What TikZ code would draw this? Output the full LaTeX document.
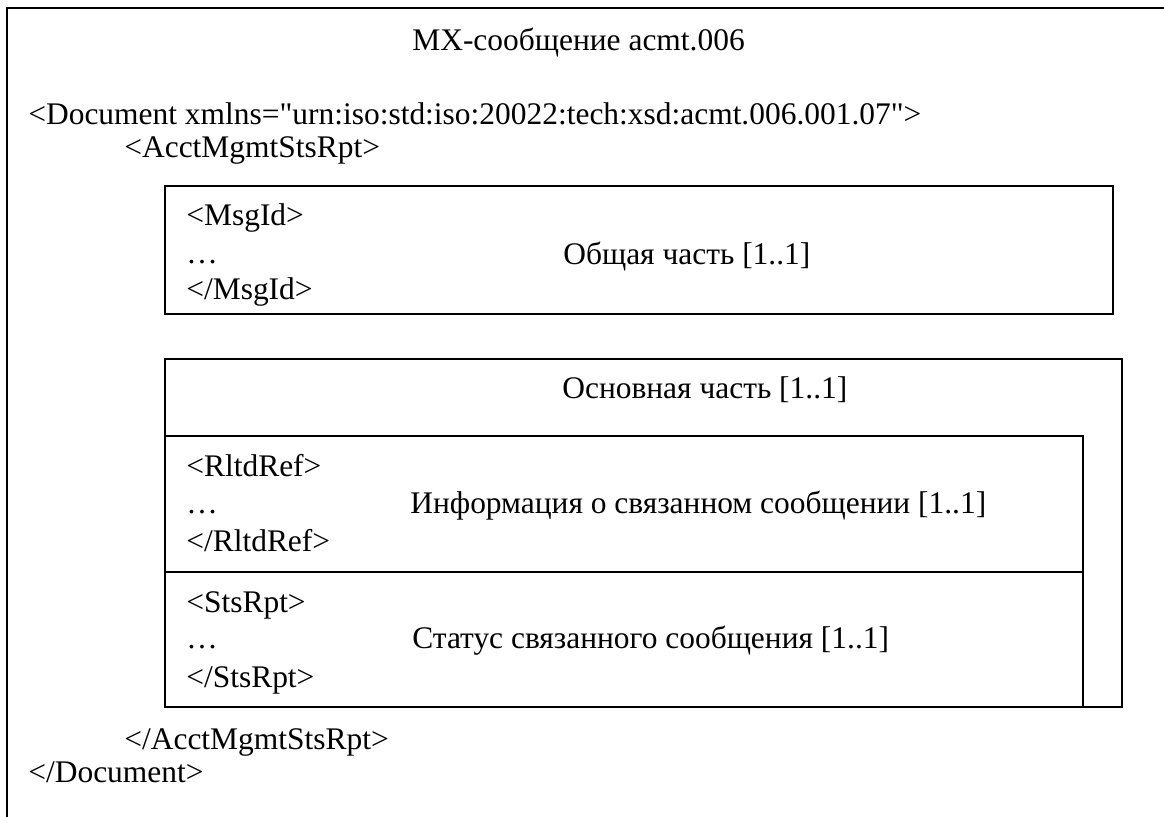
\documentclass[tikz,border=0pt]{standalone}
\usepackage{fontspec}
\setmainfont{Liberation Serif}[Ligatures=TeXOff]
\usetikzlibrary{positioning}

\begin{document}
\begin{tikzpicture}[
    x=0.02cm, y=-0.02cm,
    frame/.style={draw=black, line width=1.6pt},
    part/.style={draw=black, line width=1.1pt},
    txt/.style={anchor=base west, inner sep=0pt, font=\fontsize{17.9}{21}\selectfont}
]

\useasboundingbox (0,0) rectangle (1164,816);
\clip (0,0) rectangle (1164,816);

\draw[frame] (7,8) rectangle (1180,830);

\node[txt] (title) at (412,50) {MX-сообщение acmt.006};
\node[txt] (docopen) at (28,124) {<Document xmlns="urn:iso:std:iso:20022:tech:xsd:acmt.006.001.07">};
\node[txt] (rptopen) at (124,157) {<AcctMgmtStsRpt>};

\draw[part] (165,186) rectangle (1113,314);
\node[txt] (msgopen) at (186,225) {<MsgId>};
\node[txt] (msgdots) at (186,263) {…};
\node[txt] (msgclose) at (186,299) {</MsgId>};
\node[txt] (common) at (563,264) {Общая часть [1..1]};

\draw[part] (165,359) rectangle (1122,707);
\node[txt] (main) at (562,398) {Основная часть [1..1]};

\draw[part] (165,436) rectangle (1083,707);
\draw[part] (165,572) -- (1083,572);
\node[txt] (refopen) at (186,476) {<RltdRef>};
\node[txt] (refdots) at (186,513) {…};
\node[txt] (refclose) at (186,551) {</RltdRef>};
\node[txt] (refinfo) at (410,513) {Информация о связанном сообщении [1..1]};

\node[txt] (stsopen) at (186,612) {<StsRpt>};
\node[txt] (stsdots) at (186,648) {…};
\node[txt] (stsclose) at (186,687) {</StsRpt>};
\node[txt] (stsinfo) at (412,648) {Статус связанного сообщения [1..1]};

\node[txt] (rptclose) at (124,749) {</AcctMgmtStsRpt>};
\node[txt] (docclose) at (28,782) {</Document>};

\end{tikzpicture}
\end{document}
